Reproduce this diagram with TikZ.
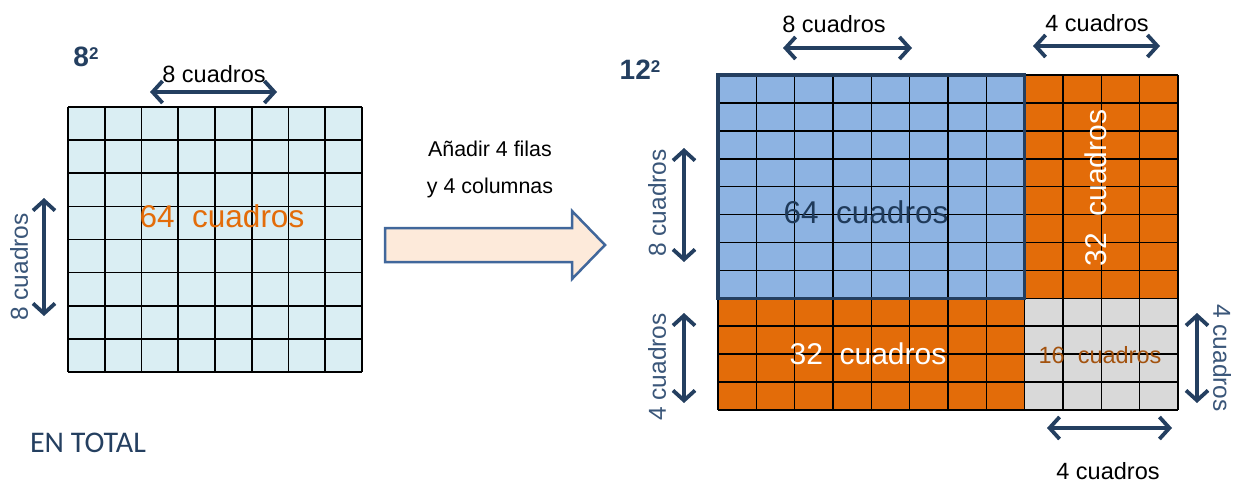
\documentclass[tikz,border=0pt]{standalone}
\usepackage{fontspec}
\setmainfont{Liberation Sans}
\newfontfamily\calibrifont{Carlito}
\usetikzlibrary{arrows.meta}

\definecolor{lightcell}{HTML}{DAEEF3}
\definecolor{bluecell}{HTML}{8DB3E2}
\definecolor{orangecell}{HTML}{E36C09}
\definecolor{graycell}{HTML}{D9D9D9}
\definecolor{navy}{HTML}{243F60}
\definecolor{labelnavy}{HTML}{3A5679}
\definecolor{darktext}{HTML}{1F3A5A}
\definecolor{browntext}{HTML}{A3520E}
\definecolor{arrowfill}{HTML}{FDEADA}
\definecolor{arrowline}{HTML}{41679B}

\newcommand{\sqnum}[1]{#1\raisebox{7.5pt}{\fontsize{17}{17}\selectfont 2}}

\begin{document}
\begin{tikzpicture}[x=1pt, y=-1pt,
    cell line/.style={black, line width=1.6pt},
    dim/.style={{Straight Barb[length=10pt,width=22pt]}-{Straight Barb[length=10pt,width=22pt]}, line width=3.8pt, navy},
    lbl/.style={inner sep=0pt, font=\fontsize{23.5}{27}\selectfont},
    side lbl/.style={inner sep=0pt, text=labelnavy, font=\fontsize{24.5}{28}\selectfont},
    power/.style={inner sep=0pt, text=navy, font=\bfseries\fontsize{28}{30}\selectfont},
    count/.style={inner sep=0pt, font=\fontsize{31.5}{34}\selectfont}]
\useasboundingbox (0,0) rectangle (1236,484);

% Left square: 8 x 8
\fill[lightcell] (68,107) rectangle (362,372);
\foreach \i in {0,...,8} {
    \draw[cell line] (68+\i*36.75,107) -- (68+\i*36.75,372);
    \draw[cell line] (68,107+\i*33.125) -- (362,107+\i*33.125);
}

% Right square: 12 x 12
\fill[bluecell] (718,75) rectangle (1024.7,298.3);
\fill[orangecell] (1024.7,75) rectangle (1178,298.3);
\fill[orangecell] (718,298.3) rectangle (1024.7,410);
\fill[graycell] (1024.7,298.3) rectangle (1178,410);
\foreach \i in {0,...,12} {
    \draw[cell line] (718+\i*38.333,75) -- (718+\i*38.333,410);
    \draw[cell line] (718,75+\i*27.917) -- (1178,75+\i*27.917);
}
\draw[navy, line width=3.5pt] (718,75) rectangle (1024.7,298.3);

% Nodes
\node (sq8) [power] at (86,57) {\sqnum{8}};
\node (sq12) [power] at (640,70) {\sqnum{12}};
\node (top_left) [lbl] at (214,74) {8 cuadros};
\node (side_left) [side lbl, rotate=90] at (19,267) {8 cuadros};
\node (total64) [count, text=orangecell] at (222,216) {64\ \ cuadros};
\node (total) [inner sep=0pt, text=navy, font=\calibrifont\fontsize{30}{32}\selectfont] at (88,443) {EN TOTAL};
\node (add_rows) [lbl, align=center, font=\fontsize{21.4}{37}\selectfont] at (490,169) {Añadir 4 filas\\y 4 columnas};

\node (top8) [lbl] at (834,24) {8 cuadros};
\node (top4) [lbl] at (1097,23) {4 cuadros};
\node (side8) [side lbl, rotate=90] at (657,203) {8 cuadros};
\node (side4) [side lbl, rotate=90] at (657,367) {4 cuadros};
\node (right4) [side lbl, rotate=-90] at (1222,358) {4 cuadros};
\node (bottom4) [lbl] at (1108,471) {4 cuadros};
\node (blue64) [count, text=darktext] at (866,212) {64\ \ cuadros};
\node (orange32v) [count, text=white, font=\fontsize{30}{34}\selectfont, rotate=90] at (1096,188) {32\ \ cuadros};
\node (orange32h) [count, text=white, font=\fontsize{30}{34}\selectfont] at (868,354) {32\ \ cuadros};
\node (gray16) [inner sep=0pt, text=browntext, font=\fontsize{23.5}{26}\selectfont] at (1100,355) {16\ \ cuadros};

% Big arrow
\filldraw[fill=arrowfill, draw=arrowline, line width=2.5pt, line join=miter]
    (385,228) -- (572,228) -- (572,211) -- (605,245) -- (572,279) -- (572,262) -- (385,262) -- cycle;

% Dimension arrows
\coordinate (a1) at (150,92);  \coordinate (a2) at (277,92);
\coordinate (b1) at (44,198);  \coordinate (b2) at (44,316);
\coordinate (c1) at (783,48);  \coordinate (c2) at (912,48);
\coordinate (d1) at (1033,46); \coordinate (d2) at (1160,46);
\coordinate (e1) at (684,148); \coordinate (e2) at (684,262);
\coordinate (f1) at (684,313); \coordinate (f2) at (684,403);
\coordinate (g1) at (1197,313); \coordinate (g2) at (1197,403);
\coordinate (h1) at (1047,428); \coordinate (h2) at (1172,428);
\draw[dim] (a1) -- (a2);
\draw[dim] (b1) -- (b2);
\draw[dim] (c1) -- (c2);
\draw[dim] (d1) -- (d2);
\draw[dim] (e1) -- (e2);
\draw[dim] (f1) -- (f2);
\draw[dim] (g1) -- (g2);
\draw[dim] (h1) -- (h2);

\end{tikzpicture}
\end{document}
